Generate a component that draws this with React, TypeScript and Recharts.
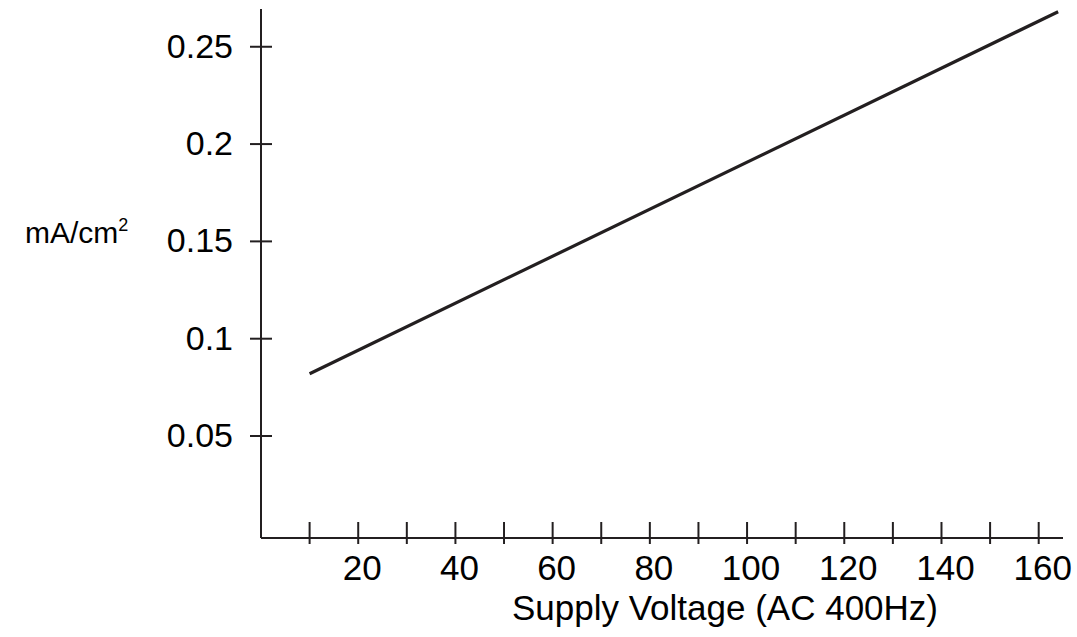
import React from "react";
import { LineChart, Line, XAxis, YAxis, Label } from "recharts";

const voltage = [10, 164];
const current = [0.082, 0.268];
const xTicks = [10, 20, 30, 40, 50, 60, 70, 80, 90, 100, 110, 120, 130, 140, 150, 160];
const xLabelled = [20, 40, 60, 80, 100, 120, 140, 160];
const yTicks = [0.05, 0.1, 0.15, 0.2, 0.25];
const yTickLabels = ["0.05", "0.1", "0.15", "0.2", "0.25"];

const data = voltage.map((v, i) => ({ v, c: current[i] }));

const INK = "#231f20";
const FONT = "'Liberation Sans', Arial, sans-serif";

const XTick = (props: any) => {
  const { x, y, payload } = props;
  const show = xLabelled.includes(payload.value);
  return (
    <g>
      <line x1={x} x2={x} y1={y - 16} y2={y + 6} stroke={INK} strokeWidth={2} />
      {show && (
        <text x={x + 4} y={y + 42} textAnchor="middle" fontSize={35} fontFamily={FONT} fill="#000">
          {payload.value}
        </text>
      )}
    </g>
  );
};

const YTick = (props: any) => {
  const { x, y, payload } = props;
  const idx = yTicks.findIndex((t) => Math.abs(t - payload.value) < 1e-9);
  return (
    <g>
      <line x1={x - 11} x2={x + 11} y1={y} y2={y} stroke={INK} strokeWidth={2} />
      <text x={x - 28} y={y + 11} textAnchor="end" fontSize={34} fontFamily={FONT} fill="#000">
        {idx >= 0 ? yTickLabels[idx] : payload.value}
      </text>
    </g>
  );
};

export default function App() {
  return (
    <div style={{ position: "absolute", left: 0, top: 0, width: 1077, height: 637, background: "#fff" }}>
      <LineChart width={1077} height={637} data={data} margin={{ top: 9, right: 14, bottom: 89, left: 251 }}>
        <XAxis
          dataKey="v"
          type="number"
          domain={[0, 165]}
          ticks={xTicks}
          interval={0}
          height={10}
          tickSize={0}
          tickMargin={0}
          tickLine={false}
          tick={<XTick />}
          axisLine={{ stroke: INK, strokeWidth: 2 }}
        >
          <Label
            content={() => (
              <text x={725} y={620} textAnchor="middle" fontSize={35} fontFamily={FONT} fill="#000">
                Supply Voltage (AC 400Hz)
              </text>
            )}
          />
        </XAxis>
        <YAxis
          type="number"
          domain={[-0.0024, 0.2694]}
          ticks={yTicks}
          interval={0}
          width={10}
          tickSize={0}
          tickMargin={0}
          tickLine={false}
          tick={<YTick />}
          axisLine={{ stroke: INK, strokeWidth: 2 }}
          allowDataOverflow
        >
          <Label
            content={() => (
              <text x={25} y={243} fontSize={30} fontFamily={FONT} fill="#000">
                mA/cm
                <tspan fontSize={18} dy={-12}>2</tspan>
              </text>
            )}
          />
        </YAxis>
        <Line dataKey="c" stroke={INK} strokeWidth={3.2} dot={false} isAnimationActive={false} />
      </LineChart>
    </div>
  );
}
